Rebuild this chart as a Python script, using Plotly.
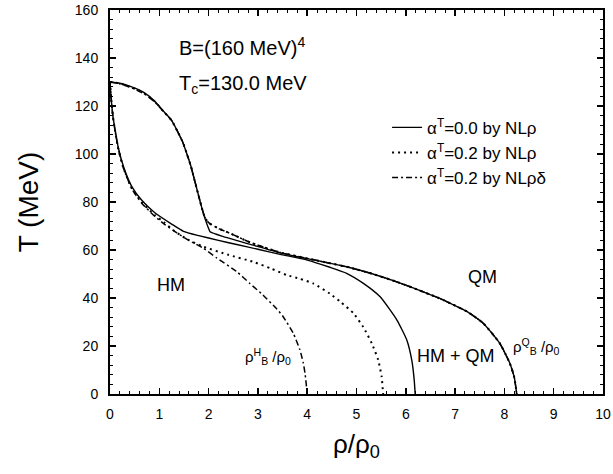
import plotly.graph_objects as go

# ---- data (rho/rho0, T in MeV) ----
# alpha^T = 0.0 by NL-rho (solid): hadronic boundary and quark boundary
solid_h_x = [0, 0.02, 0.06, 0.10, 0.17, 0.27, 0.44, 0.64, 0.91, 1.25, 1.49, 1.80, 2.20, 2.57, 3.00, 3.45, 4.00, 4.46, 4.80, 5.14, 5.48, 5.82, 6.02, 6.12, 6.17, 6.19]
solid_h_T = [130, 124.0, 115.6, 110.5, 102.5, 95.0, 86.5, 80.8, 75.5, 70.8, 67.8, 66.0, 64.0, 62.3, 60.3, 58.2, 55.8, 52.8, 50.3, 46.1, 40.5, 30.8, 22.5, 14.2, 6.0, 0]
solid_q_x = [0, 0.20, 0.44, 0.70, 0.91, 1.10, 1.25, 1.38, 1.48, 1.56, 1.64, 1.71, 1.78, 1.85, 1.92, 2.00, 2.03, 2.30, 2.60, 2.90, 3.45, 4.00, 4.46, 4.80, 5.30, 5.82, 6.30, 6.69, 6.90, 7.23, 7.57, 7.91, 8.11, 8.20, 8.25]
solid_q_T = [130, 129.5, 128.0, 125.5, 122.0, 117.5, 114.0, 109.0, 104.7, 100.0, 95.0, 89.5, 84.0, 78.5, 73.5, 69.0, 67.6, 65.6, 63.8, 62.0, 58.8, 56.4, 54.5, 53.0, 50.2, 46.7, 43.0, 39.8, 37.8, 34.5, 29.5, 21.0, 12.8, 7.0, 0]

# alpha^T = 0.2 by NL-rho (dotted)
dot_h_x = [0, 0.02, 0.06, 0.10, 0.17, 0.27, 0.44, 0.64, 0.91, 1.10, 1.28, 1.42, 1.60, 1.89, 2.40, 2.90, 3.25, 3.58, 3.85, 4.12, 4.46, 4.67, 4.94, 5.14, 5.31, 5.44, 5.51, 5.54]
dot_h_T = [130, 123.8, 115.6, 110.0, 102.0, 94.3, 85.8, 80.0, 74.5, 71.5, 68.3, 66.3, 64.1, 61.4, 58.0, 55.1, 52.4, 49.6, 48.0, 46.1, 41.8, 38.5, 33.6, 27.8, 21.1, 14.2, 7.2, 0]
dot_q_x = [0, 0.20, 0.44, 0.70, 0.91, 1.10, 1.25, 1.38, 1.48, 1.56, 1.64, 1.71, 1.78, 1.85, 1.92, 2.00, 2.20, 2.43, 2.84, 3.20, 3.45, 4.00, 4.46, 4.80, 5.30, 5.82, 6.30, 6.69, 6.90, 7.23, 7.57, 7.91, 8.11, 8.20, 8.25]
dot_q_T = [130, 129.4, 127.8, 125.2, 121.8, 117.4, 114.0, 109.0, 104.7, 100.0, 95.0, 89.5, 84.0, 78.5, 73.8, 71.3, 69.0, 67.0, 63.2, 60.6, 59.0, 56.5, 54.5, 53.0, 50.2, 46.7, 43.0, 39.8, 37.8, 34.5, 29.5, 21.0, 12.8, 7.0, 0]

# alpha^T = 0.2 by NL-rho-delta (dash-dot)
dd_h_x = [0, 0.02, 0.06, 0.10, 0.17, 0.27, 0.44, 0.64, 0.91, 1.10, 1.35, 1.60, 1.89, 2.17, 2.57, 2.84, 3.10, 3.38, 3.51, 3.72, 3.85, 3.92, 3.96, 4.00]
dd_h_T = [130, 123.8, 115.6, 110.0, 102.0, 94.2, 85.6, 79.6, 74.0, 70.8, 67.2, 64.0, 60.8, 56.6, 51.0, 46.0, 41.3, 35.5, 32.3, 25.2, 18.5, 13.0, 8.0, 0]
dd_q_x = dot_q_x
dd_q_T = [130, 129.2, 127.5, 125.0, 121.6, 117.3, 114.0, 109.0, 104.7, 100.0, 95.0, 89.5, 84.0, 78.5, 73.8, 71.4, 69.0, 67.0, 63.2, 60.6, 59.0, 56.5, 54.5, 53.0, 50.2, 46.7, 43.0, 39.8, 37.8, 34.5, 29.5, 21.0, 12.8, 7.0, 0]

legend_names = ["α<sup>T</sup>=0.0 by NLρ", "α<sup>T</sup>=0.2 by NLρ", "α<sup>T</sup>=0.2 by NLρδ"]

FONT = "Arial, Liberation Sans, sans-serif"

fig = go.Figure()
series = [
    (solid_h_x, solid_h_T, solid_q_x, solid_q_T, dict(color="black", width=1.4, dash="solid")),
    (dot_h_x, dot_h_T, dot_q_x, dot_q_T, dict(color="black", width=2, dash="2px,4px")),
    (dd_h_x, dd_h_T, dd_q_x, dd_q_T, dict(color="black", width=1.5, dash="6px,3px,2px,3px")),
]
for i, (hx, hT, qx, qT, ln) in enumerate(series):
    fig.add_trace(go.Scatter(x=hx, y=hT, mode="lines", line=dict(shape="spline", smoothing=0.5, **ln),
                             name=legend_names[i], legendgroup=str(i), showlegend=True))
    fig.add_trace(go.Scatter(x=qx, y=qT, mode="lines", line=dict(shape="spline", smoothing=0.5, **ln),
                             name=legend_names[i], legendgroup=str(i), showlegend=False))

big_font = dict(family=FONT, size=20, color="black")
ann_font = dict(family=FONT, size=18, color="black")
small_font = dict(family=FONT, size=15, color="black")
annotations = [
    dict(x=0.136, y=0.905, xref="paper", yref="paper", text="B=(160 MeV)<sup>4</sup>", showarrow=False,
         xanchor="left", yanchor="middle", font=big_font),
    dict(x=0.136, y=0.805, xref="paper", yref="paper", text="T<sub>c</sub>=130.0 MeV", showarrow=False,
         xanchor="left", yanchor="middle", font=big_font),
    dict(x=1.24, y=45.4, text="HM", showarrow=False, font=ann_font),
    dict(x=7.55, y=48.8, text="QM", showarrow=False, font=ann_font),
    dict(x=7.02, y=15.8, text="HM + QM", showarrow=False, font=ann_font),
    dict(x=3.2, y=15.5, text="ρ<sup>H</sup><sub>B</sub> /ρ<sub>0</sub>", showarrow=False, font=small_font),
    dict(x=8.66, y=20.0, text="ρ<sup>Q</sup><sub>B</sub> /ρ<sub>0</sub>", showarrow=False, font=small_font),
]

axis_common = dict(showline=True, linecolor="black", linewidth=2, mirror="allticks",
                   ticks="inside", ticklen=6, tickwidth=1.5, tickcolor="black",
                   showgrid=False, zeroline=False, automargin=False, ticklabeloverflow="allow",
                   tickfont=dict(family=FONT, size=14, color="black"))

fig.update_layout(
    width=613, height=474,
    margin=dict(l=110, r=10, t=10, b=80),
    paper_bgcolor="white", plot_bgcolor="white",
    font=dict(family=FONT, color="black"),
    showlegend=True,
    legend=dict(x=0.562, y=0.74, xanchor="left", yanchor="top", bgcolor="rgba(0,0,0,0)",
                font=dict(family=FONT, size=17, color="black"), tracegroupgap=0),
    annotations=annotations,
    xaxis=dict(range=[0, 10], dtick=1, tick0=0,
               minor=dict(dtick=0.2, ticks="inside", ticklen=3, tickwidth=1, tickcolor="black"),
               title=dict(text="ρ/ρ<sub>0</sub>", font=dict(family=FONT, size=26, color="black"), standoff=14),
               ticklabelstandoff=6, **axis_common),
    yaxis=dict(range=[0, 160], dtick=20, tick0=0,
               minor=dict(dtick=4, ticks="inside", ticklen=3, tickwidth=1, tickcolor="black"),
               title=dict(text="T (MeV)", font=dict(family=FONT, size=28, color="black"), standoff=28),
               ticklabelstandoff=7, **axis_common),
)

# remove the browser's default 8px body margin so the 613x474 figure fills the window exactly
fig.write_html("out.html", config={"displayModeBar": False, "staticPlot": True},
               post_script="document.body.style.margin='0';")
